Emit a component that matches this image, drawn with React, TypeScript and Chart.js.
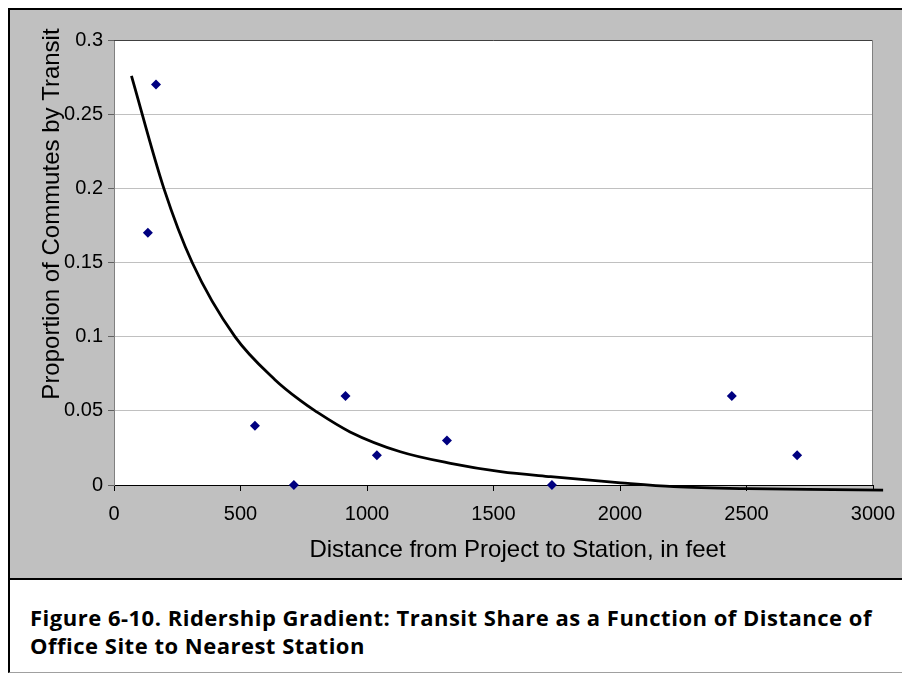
import React, { useEffect, useRef } from "react";
import { Chart, registerables } from "chart.js";

Chart.register(...registerables);

// Observed sites: distance to station (feet) and transit share
const pointDistance = [134, 166, 557, 711, 915, 1039, 1316, 1731, 2442, 2700];
const pointShare = [0.17, 0.27, 0.04, 0, 0.06, 0.02, 0.03, 0, 0.06, 0.02];

// Fitted trend line
const trendDistance = [69, 197, 309, 478, 636, 736, 795, 933, 1132, 1330, 1528, 1726, 2003, 2212, 2505, 2743, 3040];
const trendShare = [0.2758, 0.2, 0.15, 0.1, 0.071, 0.057, 0.05, 0.0358, 0.0224, 0.0146, 0.009, 0.0056, 0.0015, -0.0011, -0.0025, -0.0029, -0.0034];

const xTickValues = [0, 500, 1000, 1500, 2000, 2500, 3000];
const xTickLabels = ["0", "500", "1000", "1500", "2000", "2500", "3000"];
const yTickValues = [0, 0.05, 0.1, 0.15, 0.2, 0.25, 0.3];
const yTickLabels = ["0", "0.05", "0.1", "0.15", "0.2", "0.25", "0.3"];

const xTitle = "Distance from Project to Station, in feet";
const yTitle = "Proportion of Commutes by Transit";
const captionLines = [
  "Figure 6-10. Ridership Gradient: Transit Share as a Function of Distance of",
  "Office Site to Nearest Station",
];

const FONT = "'Liberation Sans', Arial, sans-serif";

const framePlugin = {
  id: "frame",
  beforeDraw(chart: any) {
    const { ctx, chartArea: a } = chart;
    ctx.save();
    ctx.fillStyle = "#ffffff";
    ctx.fillRect(a.left, a.top, a.right - a.left, a.bottom - a.top);
    ctx.restore();
  },
  beforeDatasetsDraw(chart: any) {
    const { ctx, chartArea: a } = chart;
    ctx.save();
    ctx.lineWidth = 1;
    ctx.strokeStyle = "#404040";
    ctx.beginPath();
    ctx.moveTo(a.left, a.top + 0.5);
    ctx.lineTo(a.right, a.top + 0.5);
    ctx.stroke();
    ctx.strokeStyle = "#808080";
    ctx.beginPath();
    ctx.moveTo(a.right - 0.5, a.top);
    ctx.lineTo(a.right - 0.5, a.bottom);
    ctx.stroke();
    ctx.restore();
  },
  afterDraw(chart: any) {
    const { ctx, chartArea: a } = chart;
    ctx.save();
    ctx.fillStyle = "#000";
    ctx.font = `24px ${FONT}`;
    ctx.textAlign = "center";
    ctx.textBaseline = "alphabetic";
    ctx.fillText(xTitle, (a.left + a.right) / 2 + 24, a.bottom + 72);
    ctx.translate(a.left - 55, a.top + 174);
    ctx.rotate(-Math.PI / 2);
    ctx.fillText(yTitle, 0, 0);
    ctx.restore();
  },
};

export default function App() {
  const ref = useRef<HTMLCanvasElement | null>(null);

  useEffect(() => {
    if (!ref.current) return;
    const chart = new Chart(ref.current, {
      type: "scatter",
      data: {
        datasets: [
          {
            type: "scatter",
            label: "Sites",
            data: pointDistance.map((x, i) => ({ x, y: pointShare[i] })),
            pointStyle: "rectRot",
            pointRadius: 5,
            backgroundColor: "#000080",
            borderColor: "#000080",
            borderWidth: 0,
            clip: false,
          } as any,
          {
            type: "line",
            label: "Trend",
            data: trendDistance.map((x, i) => ({ x, y: trendShare[i] })),
            borderColor: "#000000",
            borderWidth: 2.8,
            pointRadius: 0,
            fill: false,
            cubicInterpolationMode: "monotone",
            clip: false,
          } as any,
        ],
      },
      options: {
        animation: false,
        responsive: false,
        layout: { autoPadding: false, padding: { left: 0, top: 30, right: 29, bottom: 0 } },
        plugins: { legend: { display: false }, tooltip: { enabled: false } },
        scales: {
          x: {
            type: "linear",
            min: 0,
            max: 3000,
            afterBuildTicks: (s: any) => {
              s.ticks = xTickValues.map((v) => ({ value: v }));
            },
            afterFit: (s: any) => {
              s.height = 93;
              s.paddingLeft = 0;
              s.paddingRight = 0;
            },
            grid: { drawOnChartArea: false, tickLength: 6, tickColor: "#000", lineWidth: 1 },
            border: { color: "#000", width: 1 },
            ticks: {
              color: "#000",
              font: { family: FONT, size: 20 },
              padding: 11,
              maxRotation: 0,
              autoSkip: false,
              callback: (_v: any, i: number) => xTickLabels[i],
            },
          },
          y: {
            type: "linear",
            min: 0,
            max: 0.3,
            afterBuildTicks: (s: any) => {
              s.ticks = yTickValues.map((v) => ({ value: v }));
            },
            afterFit: (s: any) => {
              s.width = 104;
              s.paddingTop = 0;
              s.paddingBottom = 0;
            },
            grid: { color: "#c0c0c0", tickLength: 6, tickColor: "#606060", lineWidth: 1 },
            border: { color: "#808080", width: 1 },
            ticks: {
              color: "#000",
              font: { family: FONT, size: 20 },
              padding: 5,
              autoSkip: false,
              callback: (_v: any, i: number) => yTickLabels[i],
            },
          },
        },
      } as any,
      plugins: [framePlugin],
    });
    return () => chart.destroy();
  }, []);

  return (
    <>
      <div
        style={{
          position: "absolute",
          left: 8,
          top: 8,
          width: 892,
          height: 568,
          borderTop: "2px solid #000",
          borderLeft: "2px solid #000",
          borderBottom: "2px solid #000",
          background: "#c0c0c0",
        }}
      >
        <canvas ref={ref} width={892} height={568} style={{ display: "block" }} />
      </div>
      <div
        style={{
          position: "absolute",
          left: 8,
          top: 580,
          width: 892,
          height: 92,
          borderLeft: "2px solid #000",
          borderBottom: "1px solid #a0a0a0",
          background: "#fff",
        }}
      >
        <div
          style={{
            position: "absolute",
            left: 20,
            top: 23,
            fontFamily: "'Open Sans', Roboto, sans-serif",
            fontWeight: 700,
            fontSize: 22,
            lineHeight: "28px",
            letterSpacing: "0.5px",
            color: "#000",
            whiteSpace: "nowrap",
          }}
        >
          {captionLines[0]}
          <br />
          {captionLines[1]}
        </div>
      </div>
    </>
  );
}
